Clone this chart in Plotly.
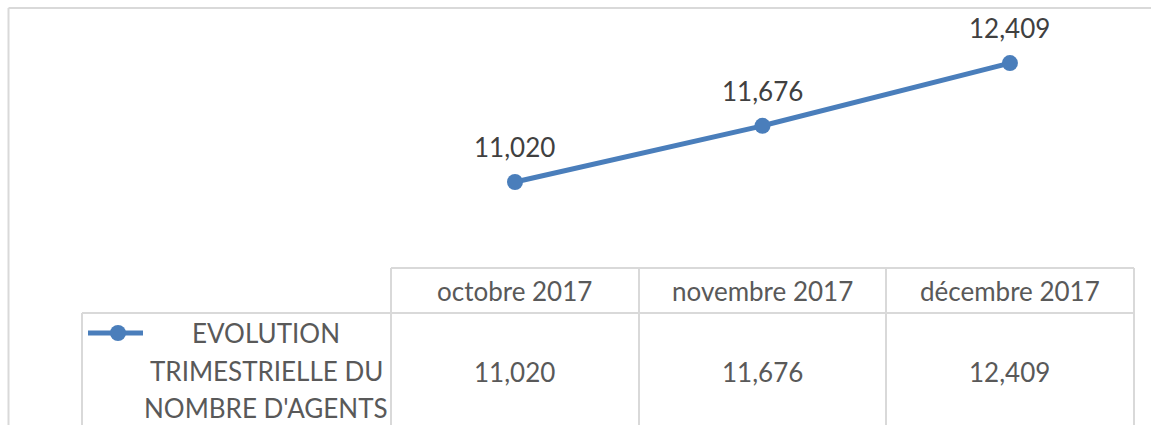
import plotly.graph_objects as go

# ---- data ----
categories = ["octobre 2017", "novembre 2017", "décembre 2017"]
values = [11020, 11676, 12409]
series_lines = ["EVOLUTION", "TRIMESTRIELLE DU", "NOMBRE D'AGENTS"]

W, H = 1151, 425
LINE_COLOR = "#4A7EBB"
GRID = "#D9D9D9"
FONT = "Lato"

def px(x):
    return x / W

def py(y):
    return 1 - y / H

# axis ranges so that category centres / values sit like the reference
x_range = [-2.081, 2.570]
y_range = [8181, 13146]

fig = go.Figure()
fig.add_trace(go.Scatter(
    x=categories, y=values, mode="lines+markers",
    line=dict(color=LINE_COLOR, width=5),
    marker=dict(color=LINE_COLOR, size=16),
    name=" ".join(series_lines),
    hoverinfo="x+y",
))

annotations = []
# data labels
for c, v in zip(categories, values):
    annotations.append(dict(x=c, y=v, xref="x", yref="y", text=f"{v:,}",
                            showarrow=False, yshift=35,
                            font=dict(family=FONT, size=26, color="#404040")))
# table header & values
for c, v in zip(categories, values):
    annotations.append(dict(x=c, y=py(291), xref="x", yref="paper", text=c,
                            showarrow=False, yanchor="middle", xanchor="center",
                            font=dict(family=FONT, size=26, color="#595959")))
    annotations.append(dict(x=c, y=py(372), xref="x", yref="paper", text=f"{v:,}",
                            showarrow=False, yanchor="middle", xanchor="center",
                            font=dict(family=FONT, size=26, color="#595959")))
# legend text (series name, one line each)
for i, t in enumerate(series_lines):
    annotations.append(dict(x=px(266), y=py(333 + 37.5 * i), xref="paper", yref="paper",
                            text=t, showarrow=False, xanchor="center", yanchor="middle",
                            font=dict(family=FONT, size=26, color="#595959")))

shapes = []
def line(x0, y0, x1, y1, w=2):
    shapes.append(dict(type="line", xref="paper", yref="paper",
                       x0=px(x0), y0=py(y0), x1=px(x1), y1=py(y1),
                       line=dict(color=GRID, width=w)))

# chart border (left and top)
line(8.5, 8, 1151, 8)
line(8.5, 8, 8.5, 425)
# table
line(391, 268, 1134, 268)
line(82, 313, 1134, 313)
for xv in [391, 639, 886, 1134]:
    line(xv, 268, xv, 425)
line(82, 313, 82, 425)
# legend symbol
shapes.append(dict(type="line", xref="paper", yref="paper",
                   x0=px(88), y0=py(333), x1=px(143), y1=py(333),
                   line=dict(color=LINE_COLOR, width=5)))
shapes.append(dict(type="circle", xref="paper", yref="paper",
                   x0=px(110), y0=py(325), x1=px(126), y1=py(341),
                   fillcolor=LINE_COLOR, line=dict(color=LINE_COLOR, width=0)))

fig.update_layout(
    width=W, height=H,
    margin=dict(l=0, r=0, t=0, b=0),
    paper_bgcolor="white", plot_bgcolor="white",
    showlegend=False,
    xaxis=dict(range=x_range, visible=False, showgrid=False, zeroline=False),
    yaxis=dict(range=y_range, visible=False, showgrid=False, zeroline=False),
    annotations=annotations, shapes=shapes,
    font=dict(family=FONT),
)

fig.write_html("out.html", config={"displayModeBar": False},
               post_script="document.body.style.margin='0';")
